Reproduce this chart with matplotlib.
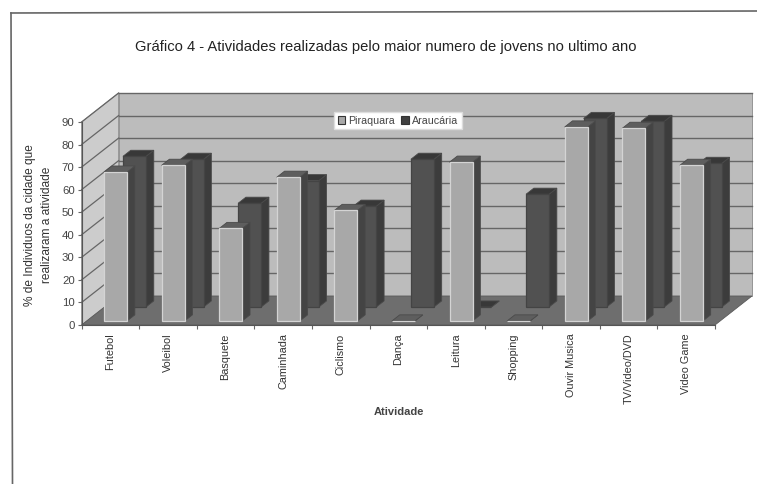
import matplotlib
matplotlib.use('Agg')
import matplotlib.pyplot as plt
from matplotlib.patches import Polygon, Rectangle

atividades = ['Futebol', 'Voleibol', 'Basquete', 'Caminhada', 'Ciclismo', 'Dança',
              'Leitura', 'Shopping', 'Ouvir Musica', 'TV/Video/DVD', 'Video Game']
piraquara = [66, 69, 41, 63.7, 49, 0, 70.4, 0, 86, 85.4, 69]
araucaria = [66.8, 65.5, 46, 56, 44.7, 65.5, 0, 50, 83.6, 82.3, 63.7]
yticks = list(range(0, 100, 10))

W, H = 757, 484
plt.rcParams['font.family'] = ['Liberation Sans', 'DejaVu Sans']

fig = plt.figure(figsize=(W / 100, H / 100), dpi=100)

# front plane of the 3D box, in pixels
x0, x1 = 81.6, 715
y0, y1 = 325, 122
ax = fig.add_axes([x0 / W, 1 - y0 / H, (x1 - x0) / W, (y0 - y1) / H])
ax.set_xlim(0, 11)
ax.set_ylim(0, 90)
ax.patch.set_visible(False)

# depth of the box, data units per unit of z
dx = 37 / ((x1 - x0) / 11)
dy = 29 / ((y0 - y1) / 90)


def p(x, y, z):
    return (x + z * dx, y + z * dy)


def poly(pts, fc, ec='#4a4a4a', lw=0.6, zorder=2):
    ax.add_patch(Polygon(pts, closed=True, fc=fc, ec=ec, lw=lw, zorder=zorder, clip_on=False))


def bar3d(left, width, value, z0, z1, front, side, top, edge, zorder):
    r = left + width
    poly([p(r, 0, z0), p(r, 0, z1), p(r, value, z1), p(r, value, z0)], side, zorder=zorder)
    poly([p(left, value, z0), p(r, value, z0), p(r, value, z1), p(left, value, z1)], top, zorder=zorder)
    poly([p(left, 0, z0), p(r, 0, z0), p(r, value, z0), p(left, value, z0)], front, ec=edge,
         lw=0.9, zorder=zorder + 0.1)


# walls and floor
poly([p(0, 0, 1), p(11, 0, 1), p(11, 90, 1), p(0, 90, 1)], '#bcbcbc', ec='#8a8a8a', zorder=1)
poly([p(0, 0, 0), p(0, 0, 1), p(0, 90, 1), p(0, 90, 0)], '#cccccc', ec='#8a8a8a', zorder=1)
poly([p(0, 0, 0), p(11, 0, 0), p(11, 0, 1), p(0, 0, 1)], '#6e6e6e', ec='#5a5a5a', zorder=1)

for t in yticks[1:]:
    ax.plot(*zip(p(0, t, 1), p(11, t, 1)), color='#666666', lw=1.0, zorder=1.5, clip_on=False)
    ax.plot(*zip(p(0, t, 0), p(0, t, 1)), color='#666666', lw=0.9, zorder=1.5, clip_on=False)

bar_w = 0.40
# rear series first so the front one overlaps it
for i, b in enumerate(araucaria):
    bar3d(i + 0.32, bar_w, b, 0.62, 0.83, '#515151', '#3c3c3c', '#383838', '#444444', 3 + i * 0.01)
for i, a in enumerate(piraquara):
    bar3d(i + 0.30, bar_w, a, 0.14, 0.35, '#a8a8a8', '#444444', '#5e5e5e', '#d4d4d4', 4 + i * 0.01)

ax.set_xticks(range(12))
ax.set_xticklabels([])
ax.set_xticks([i + 0.5 for i in range(11)], minor=True)
ax.set_xticklabels(atividades, minor=True, rotation=90, fontsize=7.8, color='#333333')
ax.tick_params(axis='x', which='minor', length=0, pad=6)
ax.tick_params(axis='x', which='major', length=3, color='#666666')
ax.set_yticks(yticks)
ax.tick_params(axis='y', length=3, color='#666666', labelsize=8.2, labelcolor='#444444', pad=2)
for s in ['top', 'right']:
    ax.spines[s].set_visible(False)
for s in ['left', 'bottom']:
    ax.spines[s].set_color('#555555')
    ax.spines[s].set_zorder(6)

# legend box on the back wall
leg_handles = [Rectangle((0, 0), 1, 1, fc='#a8a8a8', ec='#333333', lw=0.8),
               Rectangle((0, 0), 1, 1, fc='#404040', ec='#333333', lw=0.8)]
leg = fig.legend(leg_handles, ['Piraquara', 'Araucária'], ncol=2, fontsize=7.7,
                 loc='center', bbox_to_anchor=(398 / W, 1 - 120.5 / H),
                 fancybox=False, framealpha=1, edgecolor='#dddddd', handlelength=0.7,
                 handleheight=0.7, handletextpad=0.3, columnspacing=0.6,
                 borderpad=0.35, labelcolor='#444444')
leg.set_zorder(8)

fig.text(386 / W, 1 - 47 / H, 'Gráfico 4 - Atividades realizadas pelo maior numero de jovens no ultimo ano',
         ha='center', va='center', fontsize=10.6, color='#222222')
fig.text(38.5 / W, 1 - 225 / H, '% de Individuos da cidade que\nrealizaram a atividade', rotation=90,
         ha='center', va='center', fontsize=8.6, color='#333333', linespacing=1.45)
fig.text(399 / W, 1 - 412 / H, 'Atividade', ha='center', va='center', fontsize=8,
         fontweight='bold', color='#444444')

# outer frame of the chart area
fig.add_artist(plt.Line2D([11 / W, W / W], [1 - 13 / H, 1 - 11 / H], color='#666666', lw=1.2))
fig.add_artist(plt.Line2D([11 / W, 12.5 / W], [1 - 13 / H, 0], color='#666666', lw=1.2))

fig.savefig('out.png', dpi=100)
